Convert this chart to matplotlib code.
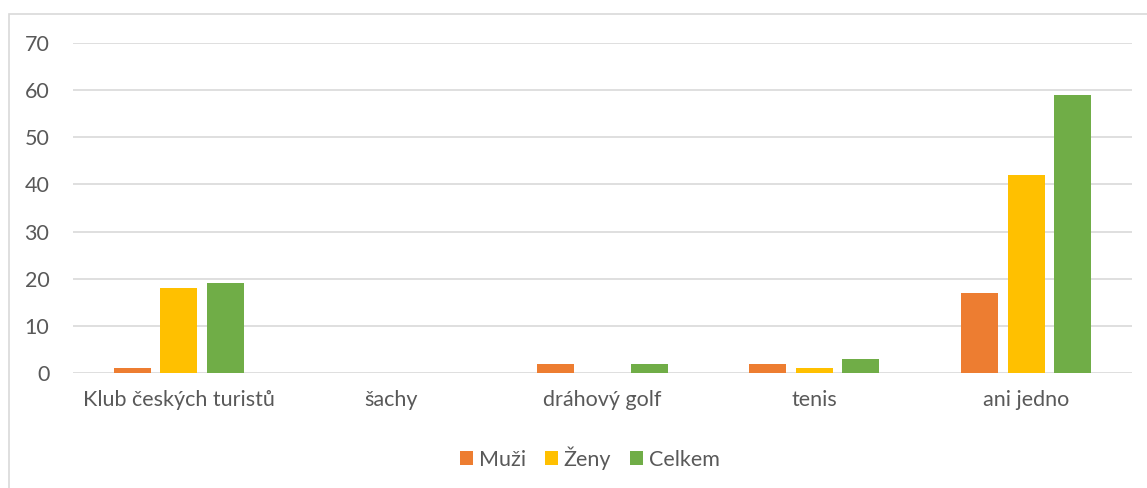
import numpy as np
import matplotlib.pyplot as plt
from matplotlib.patches import Rectangle

kategorie = ["Klub českých turistů", "šachy", "dráhový golf", "tenis", "ani jedno"]
muzi = [1, 0, 2, 2, 17]
zeny = [18, 0, 0, 1, 42]
celkem = [19, 0, 2, 3, 59]
serie = ["Muži", "Ženy", "Celkem"]
barvy = ["#ED7D31", "#FFC000", "#70AD47"]

plt.rcParams['font.family'] = ['Lato', 'DejaVu Sans']
sediva = "#595959"
velikost = 15.5

fig = plt.figure(figsize=(11.47, 4.88), dpi=100)
ax = fig.add_axes([73 / 1147, 1 - 373 / 488, (1132 - 73) / 1147, (373 - 43) / 488])

x = np.arange(len(kategorie))
sirka = 0.175
krok = 0.22
for i, (hodnoty, jmeno, barva) in enumerate(zip([muzi, zeny, celkem], serie, barvy)):
    ax.bar(x + (i - 1) * krok, hodnoty, sirka, color=barva, label=jmeno, zorder=3)

# osy
ax.set_xlim(-0.5, len(kategorie) - 0.5)
ax.set_ylim(0, 70)
ax.set_yticks(range(0, 71, 10))
ax.set_xticks(x)
ax.set_xticklabels(kategorie)
ax.grid(axis='y', color="#D9D9D9", linewidth=1.2, zorder=0)
for s in ax.spines.values():
    s.set_visible(False)
ax.tick_params(axis='both', length=0, labelsize=velikost, labelcolor=sediva)
ax.tick_params(axis='x', pad=12)
ax.tick_params(axis='y', pad=17)

# legenda
ax.legend(loc='center', bbox_to_anchor=(590 / 1147, 1 - 458 / 488), bbox_transform=fig.transFigure,
          ncol=3, frameon=False, fontsize=velikost, labelcolor=sediva, handlelength=0.6, handleheight=0.6,
          handletextpad=0.25, columnspacing=0.9)

# ramecek grafu
fig.patches.append(Rectangle((9 / 1147, -0.1), 1.2, 1 - 14 / 488 + 0.1, transform=fig.transFigure,
                             fill=False, edgecolor="#D9D9D9", linewidth=1.2))

fig.savefig("out.png", dpi=100)
